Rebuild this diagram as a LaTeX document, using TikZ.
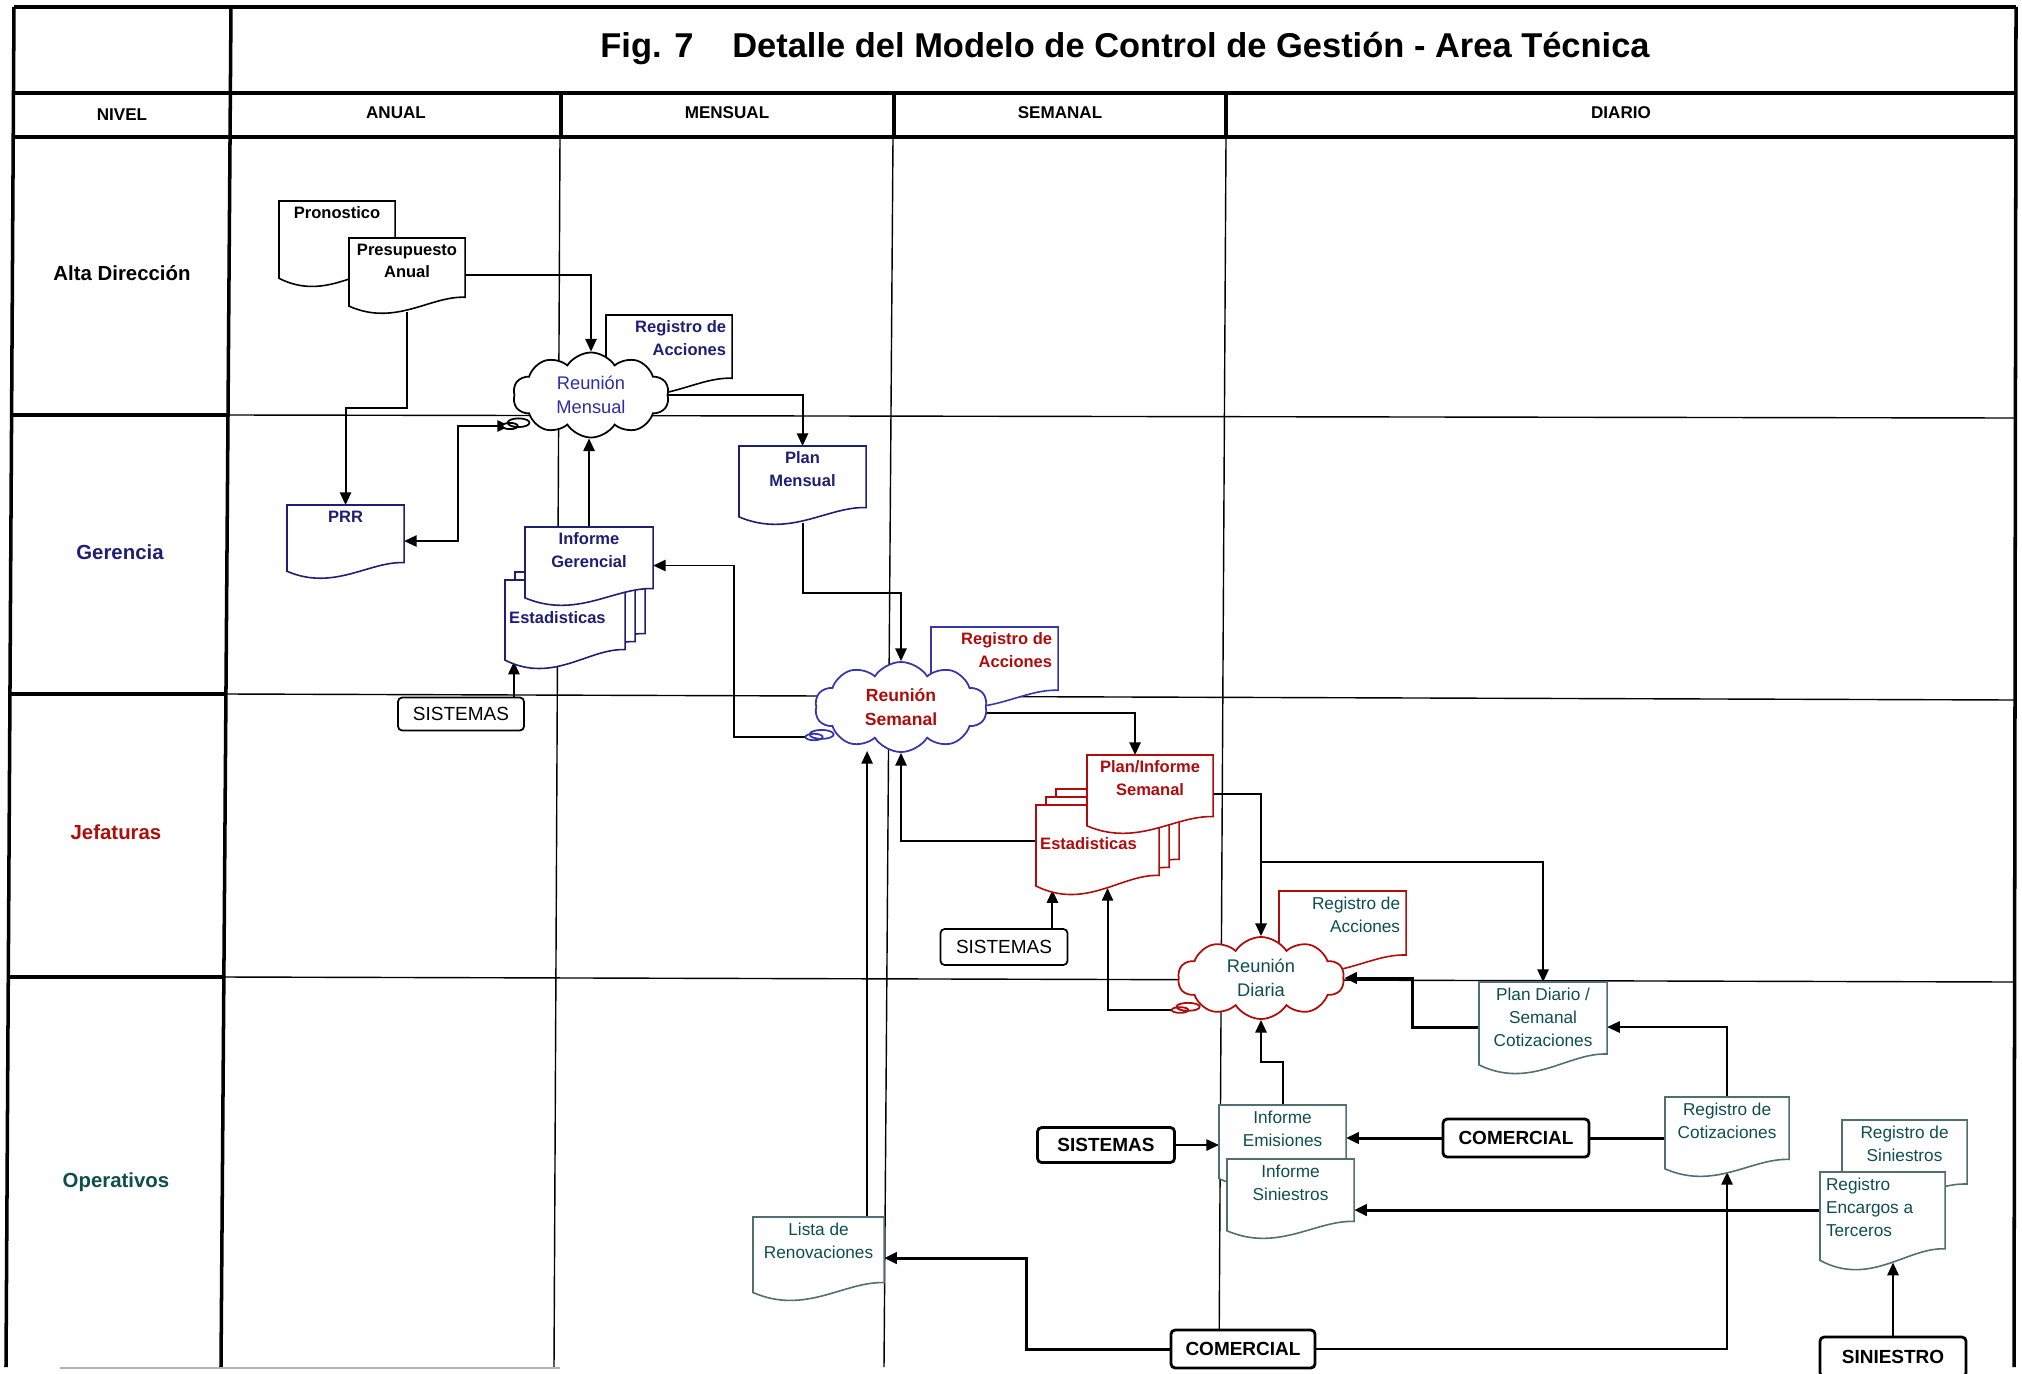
\documentclass[tikz,border=0pt]{standalone}
\usepackage{fontspec}
\setmainfont{Liberation Sans}
\usetikzlibrary{shapes,shapes.symbols,shapes.callouts,arrows.meta,calc,positioning}

\definecolor{navyG}{RGB}{30,30,115}
\definecolor{blueM}{RGB}{45,45,165}
\definecolor{blueS}{RGB}{55,55,170}
\definecolor{redJ}{RGB}{175,12,12}
\definecolor{tealO}{RGB}{16,78,78}
\definecolor{tealL}{RGB}{80,112,112}

\pgfdeclarelayer{grid}
\pgfdeclarelayer{links}
\pgfdeclarelayer{frames}
\pgfsetlayers{grid,links,frames,main}

\tikzset{
  frame/.style={line width=1pt},
  cell/.style={line width=0.4pt},
  lvl/.style={anchor=base, font=\fontsize{5.8}{7}\selectfont\bfseries},
  hdr/.style={anchor=base, font=\fontsize{4.85}{6}\selectfont\bfseries},
  doc/.style 2 args={anchor=north west, inner sep=0pt, outer sep=0pt, minimum width=#1, minimum height=#2},
  docline/.style={fill=white, line width=0.45pt},
  dlab/.style={anchor=north, align=center, inner sep=1.5pt, font=\fontsize{4.7}{6.4}\selectfont\bfseries},
  dlabR/.style={dlab, anchor=north east, align=right},
  dlabW/.style={dlab, anchor=west, inner sep=1pt, yshift=1.6pt},
  rlab/.style={dlab, text=tealO, font=\fontsize{4.9}{6.5}\selectfont},
  rlabR/.style={rlab, anchor=north east, align=right},
  rlabL/.style={rlab, anchor=north west, align=left},
  reunion/.style={cloud callout, cloud puffs=10, cloud puff arc=115, cloud ignores aspect, fill=white, line width=0.5pt, align=center, inner sep=0pt, font=\fontsize{5.2}{6.8}\selectfont, callout pointer start size=.18 of callout, callout pointer end size=.1 of callout, callout pointer segments=2},
  sysbox/.style={draw, fill=white, rounded corners=1.2pt, line width=0.5pt, inner sep=0pt, font=\fontsize{5.4}{6}\selectfont},
  sysboxB/.style={sysbox, line width=0.8pt, font=\fontsize{5.4}{6}\selectfont\bfseries},
  arr/.style={-{Triangle[length=3.6pt,width=3.2pt]}, line width=0.55pt},
  arrT/.style={arr, line width=0.85pt},
  both/.style={{Triangle[length=3.6pt,width=3.2pt]}-{Triangle[length=3.6pt,width=3.2pt]}, line width=0.55pt},
  lnT/.style={line width=0.85pt}
}

% document outline with wavy bottom, optional offset
\newcommand{\docframe}[3][0,0]{%
  \filldraw[docline, draw=#3]
    let \p1=($(#2.north west)+(#1)$), \p2=($(#2.south east)+(#1)$),
        \n1={\y1-\y2}, \n2={\x2-\x1} in
    (\x1,\y1) -- (\x2,\y1) -- (\x2,{\y2+0.2*\n1})
    .. controls ({\x1+0.7*\n2},{\y2+0.22*\n1}) and ({\x1+0.4*\n2},{\y2-0.2*\n1}) .. (\x1,{\y2+0.08*\n1}) -- cycle;}
\newcommand{\docstack}[2]{%
  \docframe[20,-16]{#1}{#2}\docframe[10,-8]{#1}{#2}\docframe{#1}{#2}}

\begin{document}
\begin{tikzpicture}[x=0.01cm, y=-0.01cm]
    \useasboundingbox (0,0) rectangle (2022,1373);

    % Title and header
    \node[anchor=base, font=\fontsize{9.8}{12}\selectfont\bfseries] (title) at (1125,58) {Fig. 7\hspace{11pt}Detalle del Modelo de Control de Gestión - Area Técnica};
    \node[hdr] (hNivel) at (122,121) {NIVEL};
    \node[hdr] (hAnual) at (396,119) {ANUAL};
    \node[hdr] (hMensual) at (727,119) {MENSUAL};
    \node[hdr] (hSemanal) at (1060,119) {SEMANAL};
    \node[hdr] (hDiario) at (1621,119) {DIARIO};

    % Levels
    \node[lvl] (lAlta) at (122,280) {Alta Dirección};
    \node[lvl, text=navyG] (lGer) at (120,559) {Gerencia};
    \node[lvl, text=redJ] (lJef) at (116,839) {Jefaturas};
    \node[lvl, text=tealO] (lOpe) at (116,1187) {Operativos};

    % Callout tips of the meetings
    \coordinate (mPtr) at (510,426);
    \coordinate (sPtr) at (814,737);
    \coordinate (dPtr) at (1180,1010);

    % Alta Direccion
    \node[doc={1.16cm}{0.84cm}, label={[dlab]north:Pronostico}] (pron) at (279,201) {};
    \node[doc={1.16cm}{0.74cm}, label={[dlab]north:Presupuesto\\Anual}] (presu) at (349,238) {};
    \node[doc={1.26cm}{0.79cm}, label={[dlabR, text=navyG]north east:Registro de\\Acciones}] (regA) at (606,315) {};
    \node[reunion, draw=black, text=blueM, minimum width=1.56cm, minimum height=0.85cm, callout absolute pointer={(mPtr)}] (cM) at (591,395) {Reunión\\Mensual};

    % Gerencia
    \node[doc={1.17cm}{0.72cm}, label={[dlab, text=navyG]north:PRR}] (prr) at (287,505) {};
    \node[doc={1.27cm}{0.77cm}, label={[dlab, text=navyG]north:Plan\\Mensual}] (planM) at (739,446) {};
    \node[doc={1.20cm}{0.87cm}, label={[dlabW, text=navyG]west:Estadisticas}] (estG) at (505,580) {};
    \node[doc={1.28cm}{0.77cm}, label={[dlab, text=navyG]north:Informe\\Gerencial}] (infG) at (525,527) {};
    \node[sysbox, minimum width=1.26cm, minimum height=0.33cm] (sisG) at (461,714) {SISTEMAS};
    \node[doc={1.27cm}{0.79cm}, label={[dlabR, text=redJ]north east:Registro de\\Acciones}] (regG) at (931,627) {};
    \node[reunion, draw=blueS, text=redJ, font=\fontsize{5}{6.8}\selectfont\bfseries, minimum width=1.72cm, minimum height=0.9cm, callout absolute pointer={(sPtr)}] (cS) at (901,707) {Reunión\\Semanal};

    % Jefaturas
    \node[doc={1.26cm}{0.77cm}, label={[dlab, text=redJ]north:Plan/Informe\\Semanal}] (planS) at (1087,755) {};
    \node[doc={1.23cm}{0.88cm}, label={[dlabW, text=redJ]west:Estadisticas}] (estJ) at (1036,805) {};
    \node[sysbox, minimum width=1.27cm, minimum height=0.36cm] (sisJ) at (1004,947) {SISTEMAS};
    \node[doc={1.27cm}{0.80cm}, label={[rlabR]north east:Registro de\\Acciones}] (regJ) at (1279,891) {};
    \node[reunion, draw=redJ, text=tealO, minimum width=1.66cm, minimum height=0.82cm, callout absolute pointer={(dPtr)}] (cD) at (1261,978) {Reunión\\Diaria};

    % Operativos
    \node[doc={1.28cm}{0.90cm}, label={[rlab]north:Plan Diario /\\Semanal\\Cotizaciones}] (planD) at (1479,982) {};
    \node[doc={1.27cm}{0.80cm}, label={[rlab]north:Informe\\Emisiones}] (infE) at (1219,1105) {};
    \node[doc={1.27cm}{0.78cm}, label={[rlab]north:Informe\\Siniestros}] (infS) at (1227,1159) {};
    \node[sysboxB, minimum width=1.37cm, minimum height=0.35cm] (sisO) at (1106,1145) {SISTEMAS};
    \node[sysboxB, minimum width=1.46cm, minimum height=0.38cm] (comU) at (1516,1138) {COMERCIAL};
    \node[doc={1.24cm}{0.78cm}, label={[rlab]north:Registro de\\Cotizaciones}] (regC) at (1665,1097) {};
    \node[doc={1.25cm}{0.80cm}, label={[rlab]north:Registro de\\Siniestros}] (regS) at (1842,1120) {};
    \node[doc={1.25cm}{0.96cm}, label={[rlabL]north west:Registro\\Encargos a\\Terceros}] (regE) at (1820,1172) {};
    \node[sysboxB, minimum width=1.46cm, minimum height=0.40cm] (sinB) at (1893,1357) {SINIESTRO};
    \node[sysboxB, minimum width=1.44cm, minimum height=0.38cm] (comB) at (1243,1349) {COMERCIAL};
    \node[doc={1.31cm}{0.82cm}, label={[rlab]north:Lista de\\Renovaciones}] (lista) at (753,1217) {};

    % Document outlines
    \begin{pgfonlayer}{frames}
        \docframe{pron}{black}
        \docframe{presu}{black}
        \docframe{regA}{black}
        \docframe{prr}{navyG}
        \docframe{planM}{navyG}
        \docstack{estG}{navyG}
        \docframe{infG}{navyG}
        \docframe{regG}{blueS}
        \docstack{estJ}{redJ}
        \docframe{planS}{redJ}
        \docframe{regJ}{redJ}
        \docframe{planD}{tealL}
        \docframe{infE}{tealL}
        \docframe{infS}{tealL}
        \docframe{regC}{tealL}
        \docframe{regS}{tealL}
        \docframe{regE}{tealL}
        \docframe{lista}{tealL}
    \end{pgfonlayer}

    % Grid
    \begin{pgfonlayer}{grid}
        \fill[white] (0,0) rectangle (2022,1373);
        \draw[frame] (14,7) -- (2016,7) (14,93) -- (2016,93) (14,137) -- (2016,137);
        \draw[frame] (14,7) -- (6,1367) (231,7) -- (221,1367) (2016,7) -- (2014,1367);
        \draw[frame] (561,93) -- (561,137) (894,93) -- (894,137) (1226,93) -- (1226,137);
        \draw[frame] (12,415) -- (229,415) (10,694) -- (227,694) (8,977) -- (224,977);
        \draw[cell] (229,415) -- (2015,418) (227,694) -- (2015,700) (224,977) -- (2014,982);
        \draw[cell] (560,137) -- (554,1367) (893,137) -- (884,1367) (1226,137) -- (1219,1367);
        \draw[cell, gray!60] (60,1368) -- (560,1368);
    \end{pgfonlayer}

    % Connectors
    \begin{pgfonlayer}{links}
        \draw[arr] (presu.east) -| (cM.north);
        \draw[arr] (presu.south) -- ++(0,96) -| (prr.north);
        \draw[both] (prr.east) -- ++(54,0) |- (mPtr);
        \draw[arr] (infG.north) -- (infG.north |- cM.south);
        \draw[arr] (cM.east) -| (planM.north);
        \draw[arr] (planM.south) -- ++(0,70) -| (cS.north);
        \draw[arr] (sPtr) -- ++(-80,0) |- (infG.east);
        \draw[arr] ($(sisG.north east)+(-11,0)$) -- ++(0,-35);
        \draw[arr] ($(cS.east)+(0,6)$) -| ($(planS.north)+(-15,0)$);
        \draw[arr] ($(estJ.west)+(0,-8)$) -| (cS.south);
        \draw[arr] ($(lista.north east)+(-17,0)$) -- ++(0,-466);
        \draw[arr] (planS.east) -| (cD.north);
        \draw[arr] ($(cD.north)+(0,-74)$) -| (planD.north);
        \draw[arr] ($(sisJ.north east)+(-16,0)$) -- ++(0,-38);
        \draw[arr] (dPtr) -| ($(estJ.south)+(10,-5)$);
        \draw[arrT] (planD.west) -- ++(-67,0) |- (cD.east);
        \draw[arr] (infE.north) -- ++(0,-43) -| (cD.south);
        \draw[arr] (sisO.east) -- (sisO.east -| infE.west);
        \draw[arrT] (comU.west) -- (comU.west -| infE.east);
        \draw[lnT] (comU.east) -- (comU.east -| regC.west);
        \draw[arr] (regC.north) |- (planD.east);
        \draw[arrT] ($(regE.west)+(0,-10)$) coordinate (rq) -- (rq -| infS.east);
        \draw[arr] (sinB.north) -- ++(0,-73);
        \draw[arrT] (comB.west) -- ++(-143,0) |- (lista.east);
        \draw[arr] (comB.east) -| ($(regC.south)+(0,-3)$);
    \end{pgfonlayer}
\end{tikzpicture}
\end{document}
